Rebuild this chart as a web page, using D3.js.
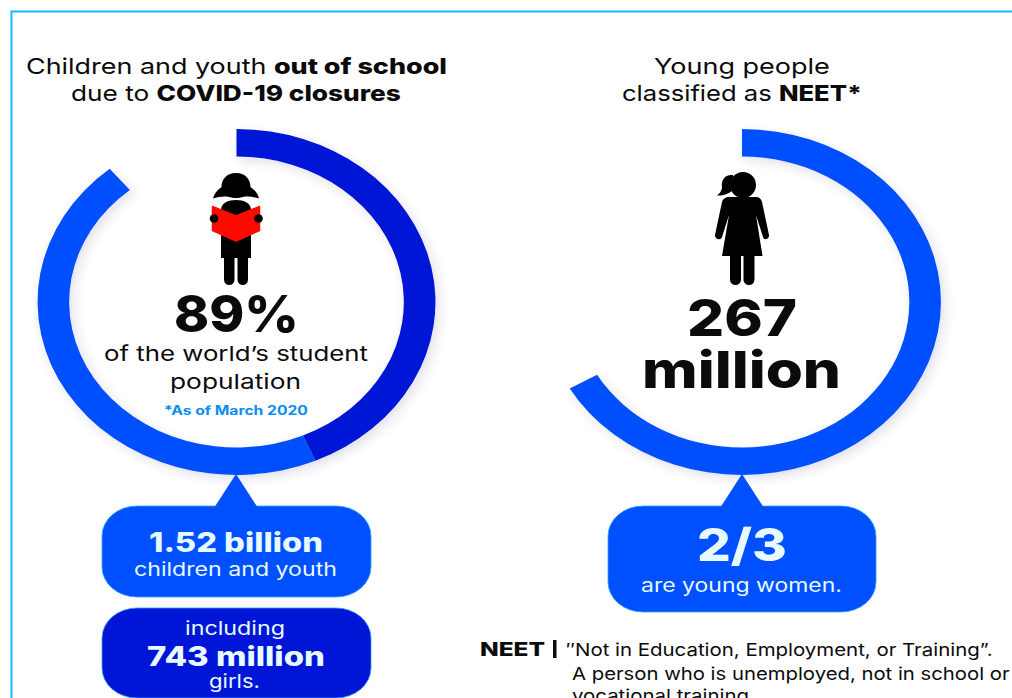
<!DOCTYPE html>
<html>
<head>
<meta charset="utf-8">
<script src="https://cdn.jsdelivr.net/npm/d3@7/dist/d3.min.js"></script>
<style>
html,body{margin:0;padding:0;background:#fff;overflow:hidden}
svg{display:block}
text{font-family:Inter,"Open Sans",sans-serif}
</style>
</head>
<body>
<svg id="chart" width="1012" height="698"></svg>
<script>
// Ring values: share of students out of school, with the girls' part of it, and the NEET share
const studentSharePct = 89;
const studentsTotalMillion = 1520;
const girlsMillion = 743;
const neetWomenShare = 2 / 3;
const neetMillion = 267;

const BLUE = "#0050ff", NAVY = "#0015d6", CYAN = "#12bdf6", PALE = "#e6faff", INK = "#0b0b0b";

const svg = d3.select("#chart");
const defs = svg.append("defs");
const shadow = defs.append("filter").attr("id", "soft").attr("x", "-10%").attr("y", "-10%").attr("width", "125%").attr("height", "125%");
shadow.append("feDropShadow").attr("dx", 3).attr("dy", 4).attr("stdDeviation", 5).attr("flood-color", "#3a3a70").attr("flood-opacity", 0.16);

// Frame: only the top and left edges sit inside the page
svg.append("path").attr("d", "M1012,11.5H11.5V698").attr("fill", "none").attr("stroke", CYAN).attr("stroke-width", 2);

// The rings are wider than tall, so the arcs are drawn round and stretched
const ringAngle = d3.scaleLinear().domain([0, 100]).range([0, 2 * Math.PI]);
const arc = d3.arc().innerRadius(145.5).outerRadius(173);
const ringStretch = 1.15;

function ring(cx, cy, segments) {
  const g = svg.append("g").attr("transform", `translate(${cx},${cy}) scale(${ringStretch},1)`).attr("filter", "url(#soft)");
  g.selectAll("path").data(segments).join("path")
    .attr("d", d => arc({ startAngle: ringAngle(d.from), endAngle: ringAngle(d.to) }))
    .attr("fill", d => d.color);
}

const girlsPct = studentSharePct * girlsMillion / studentsTotalMillion;
ring(236.5, 302, [
  { from: girlsPct, to: studentSharePct, color: BLUE },
  { from: 0, to: girlsPct, color: NAVY }
]);
ring(742, 302, [{ from: 0, to: neetWomenShare * 100, color: BLUE }]);

// Speech-bubble boxes beneath the rings; the pointer goes on top so no seam shows
function bubble(x0, x1, y0, y1, color, apexX) {
  svg.append("rect").attr("x", x0).attr("y", y0).attr("width", x1 - x0).attr("height", y1 - y0)
    .attr("rx", 35).attr("ry", 30).attr("fill", color).attr("stroke", "#2fa6ff").attr("stroke-width", 0.8);
  if (apexX !== undefined) {
    svg.append("path").attr("d", `M${apexX},474L${apexX + 22},${y0 + 2}H${apexX - 22}Z`).attr("fill", color);
  }
}
bubble(102, 371, 506, 597, BLUE, 236);
bubble(102, 371, 608, 698, NAVY);
bubble(608, 876, 506, 612, BLUE, 742);

// Text is fitted to a target width by stretching it horizontally
function fitted(parts, o) {
  const t = svg.append("text").attr("font-size", o.size).attr("fill", o.fill || INK)
    .attr("text-anchor", "start").attr("y", 0).attr("x", 0);
  parts.forEach(p => t.append("tspan").attr("font-weight", p.w || 400).text(p.s));
  const len = t.node().getComputedTextLength();
  const sx = (o.x1 - o.x0) / len;
  t.attr("transform", `translate(${o.x0},${o.y}) scale(${sx},1)`);
}
const R = s => ({ s, w: 400 }), B = s => ({ s, w: 800 });

fitted([R("Children and youth "), B("out of school")], { x0: 26, x1: 447, y: 74, size: 22 });
fitted([R("due to "), B("COVID-19 closures")], { x0: 71, x1: 401, y: 100.5, size: 22 });
fitted([R("Young people")], { x0: 654, x1: 830, y: 74, size: 22 });
fitted([R("classified as "), B("NEET*")], { x0: 622, x1: 862, y: 100.5, size: 22 });

fitted([B(studentSharePct + "%")], { x0: 174, x1: 299, y: 332, size: 51 });
fitted([R("of the world\u2019s student")], { x0: 104, x1: 368, y: 361, size: 20.5 });
fitted([R("population")], { x0: 170, x1: 301, y: 389, size: 20.5 });
fitted([{ s: "*As of March 2020", w: 700 }], { x0: 164, x1: 308, y: 414.5, size: 12.5, fill: "#0a8df2" });

fitted([B(String(neetMillion))], { x0: 687, x1: 797, y: 336, size: 51 });
fitted([B("million")], { x0: 642, x1: 841, y: 388, size: 51 });

fitted([B("1.52 billion")], { x0: 149, x1: 323, y: 551.5, size: 27, fill: PALE });
fitted([R("children and youth")], { x0: 134, x1: 337, y: 576, size: 18.5, fill: PALE });
fitted([R("including")], { x0: 185, x1: 285, y: 635, size: 18.5, fill: PALE });
fitted([B(girlsMillion + " million")], { x0: 147, x1: 325, y: 665.5, size: 27, fill: PALE });
fitted([R("girls.")], { x0: 209, x1: 260, y: 688, size: 18.5, fill: PALE });

fitted([B("2/3")], { x0: 697, x1: 787, y: 561, size: 45, fill: PALE });
fitted([R("are young women.")], { x0: 641, x1: 842, y: 592, size: 18.5, fill: PALE });

fitted([B("NEET")], { x0: 480, x1: 545, y: 656, size: 19 });
svg.append("rect").attr("x", 553).attr("y", 640).attr("width", 3.5).attr("height", 18).attr("fill", INK);
fitted([R("\u2033Not in Education, Employment, or Training\u201D.")], { x0: 566, x1: 993, y: 656, size: 17.5 });
fitted([R("A person who is unemployed, not in school or")], { x0: 572, x1: 1010, y: 679.5, size: 17.5 });
fitted([R("vocational training.")], { x0: 572, x1: 755, y: 702, size: 17.5 });

// Pictograms
const limb = (g, x, y0, y1, w) => g.append("rect").attr("x", x).attr("y", y0).attr("width", w).attr("height", y1 - y0).attr("rx", w / 2).attr("fill", "#000");

// Girl reading a red book
const girl = svg.append("g");
girl.append("path").attr("fill", "#000")
  .attr("d", "M236,173C226,173 221.5,180 221.5,187C217,190 214,194 213,198.5C218,197 224,196 229,197C230,197.5 234,198 236,198C238,198 242,197.5 243,197C248,196 254,197 259,198.5C258,194 255,190 250.5,187C250.5,180 246,173 236,173Z");
girl.append("path").attr("fill", "#000")
  .attr("d", "M221,258V210C221,203 228,200 236,200C244,200 251,203 251,210V258Z");
limb(girl, 224, 245, 285, 10.5);
limb(girl, 237.5, 245, 285, 10.5);
girl.append("path").attr("fill", "#ff0a00").attr("stroke", "#ff0a00").attr("stroke-width", 1.5).attr("stroke-linejoin", "round")
  .attr("d", "M212.5,206.5L236,216L259.5,206.5V230.5L236,241L212.5,230.5Z");
girl.selectAll("circle").data([214, 258.5]).join("circle").attr("cx", d => d).attr("cy", 218.5).attr("r", 4.3).attr("fill", "#000");

// Young woman with a ponytail
const woman = svg.append("g");
woman.append("circle").attr("cx", 743).attr("cy", 185).attr("r", 13).attr("fill", "#000");
woman.append("path").attr("fill", "#000")
  .attr("d", "M733,175C725,174 721,180 722,187C722,191 719,194 717,195.5C722,196 729,194 733,190Z");
woman.append("path").attr("fill", "#000")
  .attr("d", "M729,197H756C759,197 761,198.5 762,202L769,235C769.5,239 764,241 763,237L756,215L762.5,256H722L729,215L722,237C721,241 714.5,239 715,235L722,202C723,198.5 726,197 729,197Z");
limb(woman, 730, 245, 285, 11);
limb(woman, 743.5, 245, 285, 11);
</script>
</body>
</html>
